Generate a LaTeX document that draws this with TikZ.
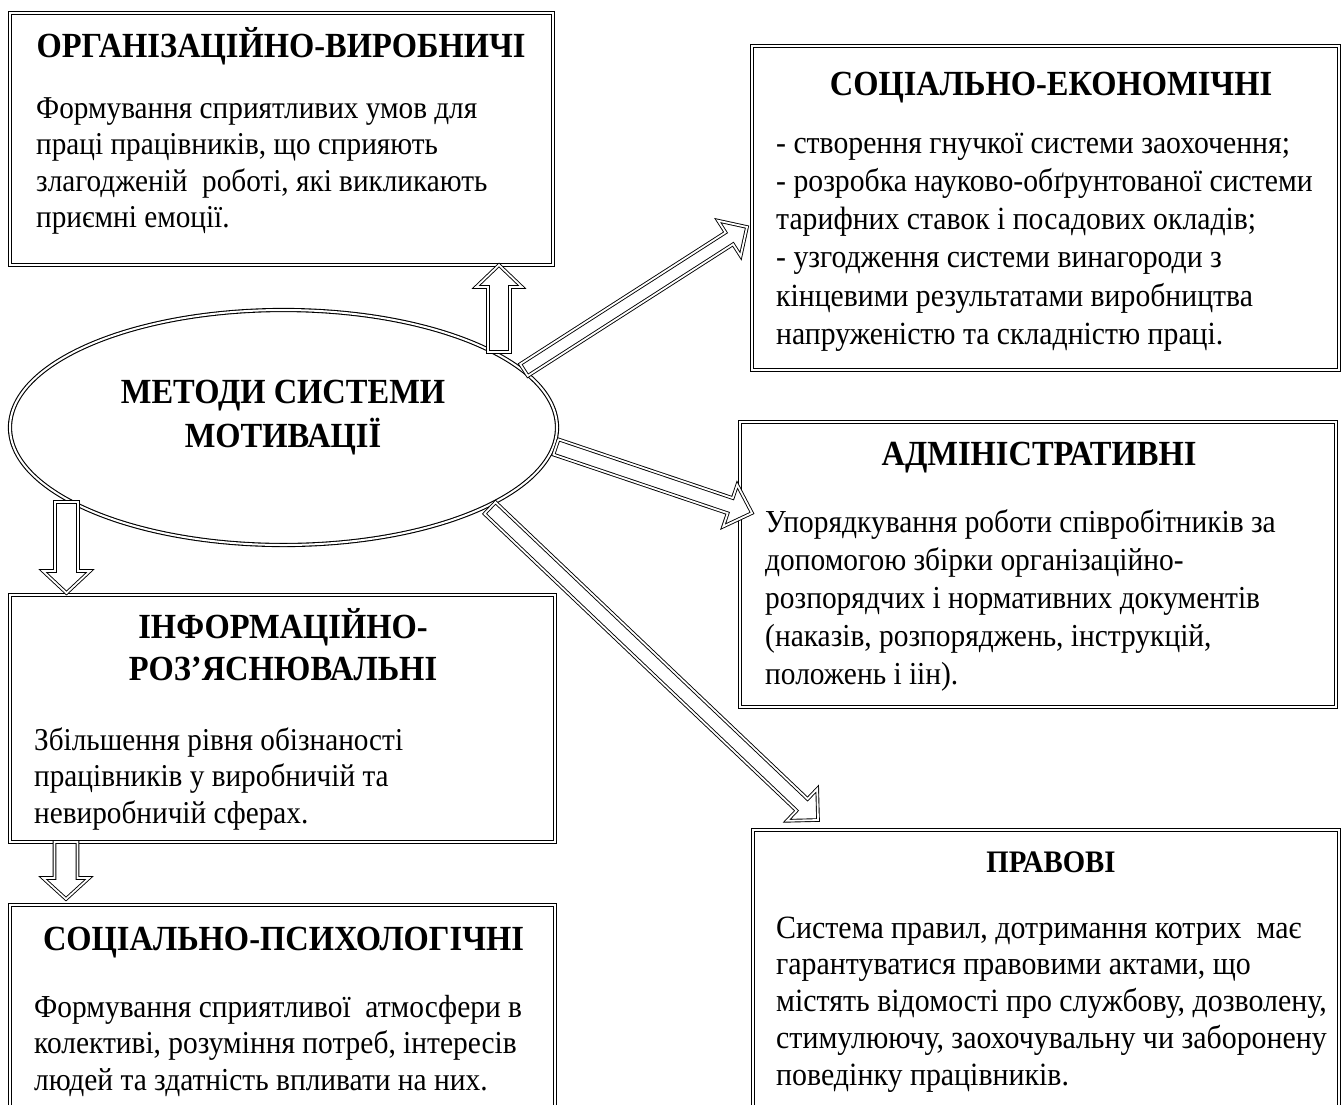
\documentclass[tikz,border=0pt]{standalone}
\usepackage{fontspec}
\setmainfont{Liberation Serif}[FakeStretch=0.92]
\usetikzlibrary{calc,shapes.geometric}
\tikzset{
 dbl/.style={draw, double, line width=1.1pt, double distance=2pt},
 boxst/.style={dbl, rectangle, inner sep=0pt, outer sep=0pt, anchor=north west},
 barrow/.style={draw, double, line width=0.9pt, double distance=1.8pt, fill=white, line join=miter},
 headst/.style={font=\fontsize{35.3pt}{42pt}\selectfont\bfseries, inner sep=0pt, anchor=base},
 bodyst/.style={inner sep=0pt, anchor=base west},
}
\newcommand\bodytext[3][38pt]{\parbox[t]{640pt}{\fontsize{#2}{#1}\selectfont\raggedright #3}}
\newcommand\blockarrow[6]{%
  \coordinate (#1c) at ($(#3)!#6!(#2)$);
  \draw[barrow] ($(#2)!#4!90:(#3)$) -- ($(#1c)!#4!90:(#3)$) -- ($(#1c)!#5!90:(#3)$) -- (#3)
     -- ($(#1c)!#5!-90:(#3)$) -- ($(#1c)!#4!-90:(#3)$) -- ($(#2)!#4!-90:(#3)$) -- cycle;
}
\begin{document}
\begin{tikzpicture}[x=1pt,y=-1pt]
\useasboundingbox (0,0) rectangle (1341,1104);
\clip (0,0) rectangle (1341,1104);
% boxes
\node[boxst, minimum width=543pt, minimum height=252pt] (b1) at (10,13) {};
\node[boxst, minimum width=587pt, minimum height=324pt] (b2) at (752,46) {};
\node[boxst, minimum width=596pt, minimum height=285pt] (b3) at (740,422) {};
\node[boxst, minimum width=545pt, minimum height=247pt] (b4) at (10,595) {};
\node[boxst, minimum width=545pt, minimum height=260pt] (b5) at (10,905) {};
\node[boxst, minimum width=586pt, minimum height=330pt] (b6) at (753,830) {};
% ellipse
\node[dbl, ellipse, minimum width=547pt, minimum height=235pt, inner sep=0pt] (ell) at (283.5,427.5) {};
% arrows
\coordinate (a1t) at (499,352); \coordinate (a1h) at (499,265);
\coordinate (a2t) at (524,370); \coordinate (a2h) at (747,227);
\coordinate (a3t) at (556,447); \coordinate (a3h) at (752,513);
\coordinate (a4t) at (490,508); \coordinate (a4h) at (818,820);
\coordinate (a5t) at (66.5,502); \coordinate (a5h) at (66.5,593);
\coordinate (a6t) at (66,842);  \coordinate (a6h) at (66,899);
\blockarrow{a1}{a1t}{a1h}{11pt}{23pt}{22pt}
\blockarrow{a2}{a2t}{a2h}{7pt}{21pt}{21pt}
\blockarrow{a3}{a3t}{a3h}{8pt}{22pt}{23pt}
\blockarrow{a4}{a4t}{a4h}{8pt}{22pt}{22pt}
\blockarrow{a5}{a5t}{a5h}{11.5pt}{23.5pt}{22pt}
\blockarrow{a6}{a6t}{a6h}{11.5pt}{23pt}{21pt}
% ellipse text
\node[headst] (e1) at (283,403) {МЕТОДИ СИСТЕМИ};
\node[headst] (e2) at (283,447) {МОТИВАЦІЇ};
% box 1
\node[headst] (h1) at (281,57) {ОРГАНІЗАЦІЙНО-ВИРОБНИЧІ};
\node[bodyst] (t1) at (36,118) {\bodytext[36.5pt]{31.8pt}{Формування сприятливих умов для\\праці працівників, що сприяють\\злагодженій\ \ роботі, які викликають\\приємні емоції.}};
% box 2
\node[headst] (h2) at (1051,95) {СОЦІАЛЬНО-ЕКОНОМІЧНІ};
\node[bodyst] (t2) at (776,153) {\bodytext[38.3pt]{32.3pt}{- створення гнучкої системи заохочення;\\- розробка науково-обґрунтованої системи\\тарифних ставок і посадових окладів;\\- узгодження системи винагороди з\\кінцевими результатами виробництва\\напруженістю та складністю праці.}};
% box 3
\node[headst] (h3) at (1039,465) {АДМІНІСТРАТИВНІ};
\node[bodyst] (t3) at (765,532) {\bodytext[38pt]{32pt}{Упорядкування роботи співробітників за\\допомогою збірки організаційно-\\розпорядчих і нормативних документів\\(наказів, розпоряджень, інструкцій,\\положень і іін).}};
% box 4
\node[headst] (h4a) at (283,638) {ІНФОРМАЦІЙНО-};
\node[headst] (h4b) at (283,680) {РОЗ’ЯСНЮВАЛЬНІ};
\node[bodyst] (t4) at (34,750) {\bodytext[36.5pt]{31.8pt}{Збільшення рівня обізнаності\\працівників у виробничій та\\невиробничій сферах.}};
% box 5
\node[headst] (h5) at (283.5,950) {СОЦІАЛЬНО-ПСИХОЛОГІЧНІ};
\node[bodyst] (t5) at (34,1017) {\bodytext[36.5pt]{32pt}{Формування сприятливої\ \ атмосфери в\\колективі, розуміння потреб, інтересів\\людей та здатність впливати на них.}};
% box 6
\node[headst, font=\fontsize{31.3pt}{36pt}\selectfont\bfseries] (h6) at (1051,872) {ПРАВОВІ};
\node[bodyst] (t6) at (776,938) {\bodytext[36.8pt]{32.5pt}{Система правил, дотримання котрих\ \ має\\гарантуватися правовими актами, що\\містять відомості про службову, дозволену,\\стимулюючу, заохочувальну чи заборонену\\поведінку працівників.}};
\end{tikzpicture}
\end{document}
